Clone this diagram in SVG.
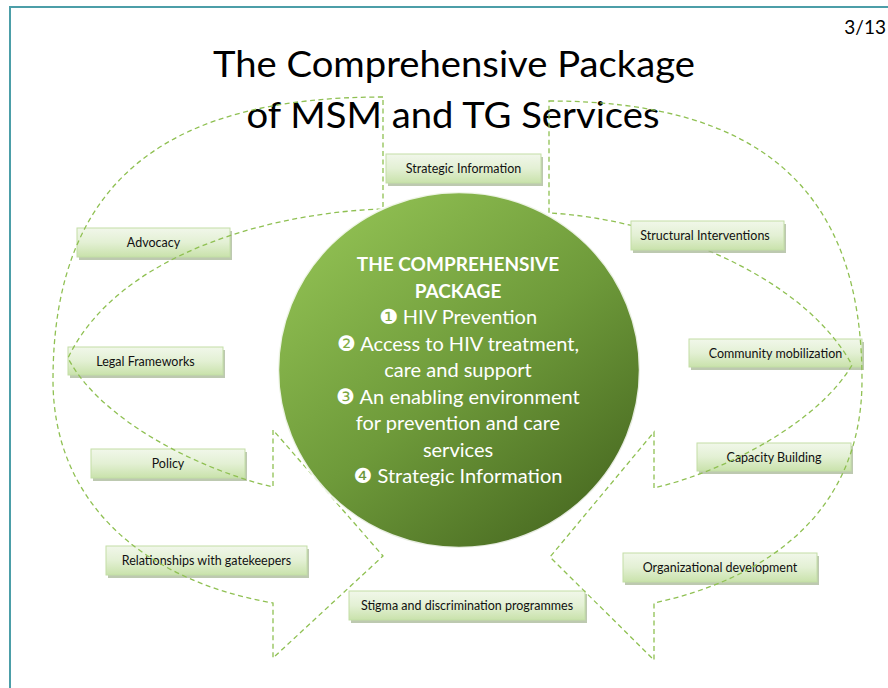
<svg xmlns="http://www.w3.org/2000/svg" width="888" height="688" viewBox="0 0 888 688">
<defs>
  <linearGradient id="boxGrad" x1="0" y1="0" x2="0" y2="1">
    <stop offset="0" stop-color="#f1f7ea"/>
    <stop offset="0.5" stop-color="#e3f0d4"/>
    <stop offset="1" stop-color="#c9e2ab"/>
  </linearGradient>
  <linearGradient id="circGrad" x1="0.2" y1="0.1" x2="0.85" y2="0.92">
    <stop offset="0" stop-color="#8dbc50"/>
    <stop offset="0.5" stop-color="#6e9a3a"/>
    <stop offset="1" stop-color="#4a6c22"/>
  </linearGradient>
  <style>
    .frame { fill: none; stroke: #4c9ea8; stroke-width: 2; }
    .dash { fill: none; stroke: #8fc052; stroke-width: 1.3; stroke-dasharray: 5 3.5; }
    .box { fill: url(#boxGrad); stroke: #c3dea6; stroke-width: 1; }
    .shadow { fill: #a7b795; opacity: 0.75; }
    .lbl { font-family: Lato, "Liberation Sans", sans-serif; font-size: 12.5px; fill: #111; text-anchor: middle; }
    .title { font-family: Lato, "Liberation Sans", sans-serif; font-size: 36px; fill: #000; text-anchor: middle; }
    .ctext { font-family: Lato, "Liberation Sans", sans-serif; font-size: 20px; fill: #ffffff; text-anchor: middle; }
    .bold { font-size: 19px; font-weight: bold; }
    .num { font-family: "DejaVu Sans", sans-serif; font-size: 21px; }
  </style>
</defs>
<rect class="frame" x="10" y="7" width="900" height="700"/>
<text x="886" y="34" font-family="Lato, 'Liberation Sans', sans-serif" font-size="19" text-anchor="end" fill="#000">3/13</text>
<text class="title" x="454" y="77" textLength="482" lengthAdjust="spacingAndGlyphs">The Comprehensive Package</text>
<text class="title" x="453" y="128" textLength="413" lengthAdjust="spacingAndGlyphs">of MSM and TG Services</text>

<g id="node-advocacy"><rect class="shadow" x="79" y="231" width="153" height="29"/><rect class="box" x="77" y="228" width="153" height="29"/><text class="lbl" x="153.5" y="247">Advocacy</text></g>
<g id="node-legal"><rect class="shadow" x="70" y="350" width="155" height="28"/><rect class="box" x="68" y="347" width="155" height="28"/><text class="lbl" x="145.5" y="365.5">Legal Frameworks</text></g>
<g id="node-policy"><rect class="shadow" x="93" y="452" width="154" height="29"/><rect class="box" x="91" y="449" width="154" height="29"/><text class="lbl" x="168" y="468">Policy</text></g>
<g id="node-gatekeepers"><rect class="shadow" x="108" y="549" width="201" height="29"/><rect class="box" x="106" y="546" width="201" height="29"/><text class="lbl" x="206.5" y="565">Relationships with gatekeepers</text></g>
<g id="node-stigma"><rect class="shadow" x="351" y="594" width="236" height="29"/><rect class="box" x="349" y="591" width="236" height="29"/><text class="lbl" x="467" y="610">Stigma and discrimination programmes</text></g>
<g id="node-orgdev"><rect class="shadow" x="625" y="556" width="194" height="29"/><rect class="box" x="623" y="553" width="194" height="29"/><text class="lbl" x="720" y="572">Organizational development</text></g>
<g id="node-capacity"><rect class="shadow" x="699" y="446" width="154" height="28"/><rect class="box" x="697" y="443" width="154" height="28"/><text class="lbl" x="774" y="461.5">Capacity Building</text></g>
<g id="node-community"><rect class="shadow" x="691" y="342" width="173" height="28"/><rect class="box" x="689" y="339" width="173" height="28"/><text class="lbl" x="775.5" y="357.5">Community mobilization</text></g>
<g id="node-strategic"><rect class="shadow" x="388" y="157" width="155" height="29"/><rect class="box" x="386" y="154" width="155" height="29"/><text class="lbl" x="463.5" y="173">Strategic Information</text></g>

<g id="connectors">
  <path class="dash" d="M383,97 C180,97 53,170 53,380 C53,500 140,580 273,603 L273,658 L383,556 L273,430 L273,487 C200,470 100,420 68,358 C120,250 280,212 383,209 Z"/>
  <path class="dash" d="M549,101 C760,101 862,190 862,380 C862,510 770,578 654,603 L654,660 L550,557 L654,432 L654,488 C730,470 820,420 852,365 C800,270 650,218 549,213 Z"/>
</g>

<g id="node-structural"><rect class="shadow" x="633" y="224" width="153" height="29"/><rect class="box" x="631" y="221" width="153" height="29"/><text class="lbl" x="705" y="239.5">Structural Interventions</text></g>

<g id="node-center">
  <ellipse cx="459" cy="370" rx="181" ry="178" fill="url(#circGrad)" stroke="#ffffff" stroke-width="2.5" stroke-opacity="0.85"/>
  <text class="ctext bold" x="458" y="271">THE COMPREHENSIVE</text>
  <text class="ctext bold" x="458" y="297.5">PACKAGE</text>
  <text class="ctext" x="458" y="324"><tspan class="num">❶</tspan> HIV Prevention</text>
  <text class="ctext" x="458" y="350.5"><tspan class="num">❷</tspan> Access to HIV treatment,</text>
  <text class="ctext" x="458" y="377">care and support</text>
  <text class="ctext" x="458" y="403.5"><tspan class="num">❸</tspan> An enabling environment</text>
  <text class="ctext" x="458" y="430">for prevention and care</text>
  <text class="ctext" x="458" y="456.5">services</text>
  <text class="ctext" x="458" y="483"><tspan class="num">❹</tspan> Strategic Information</text>
</g>
</svg>
